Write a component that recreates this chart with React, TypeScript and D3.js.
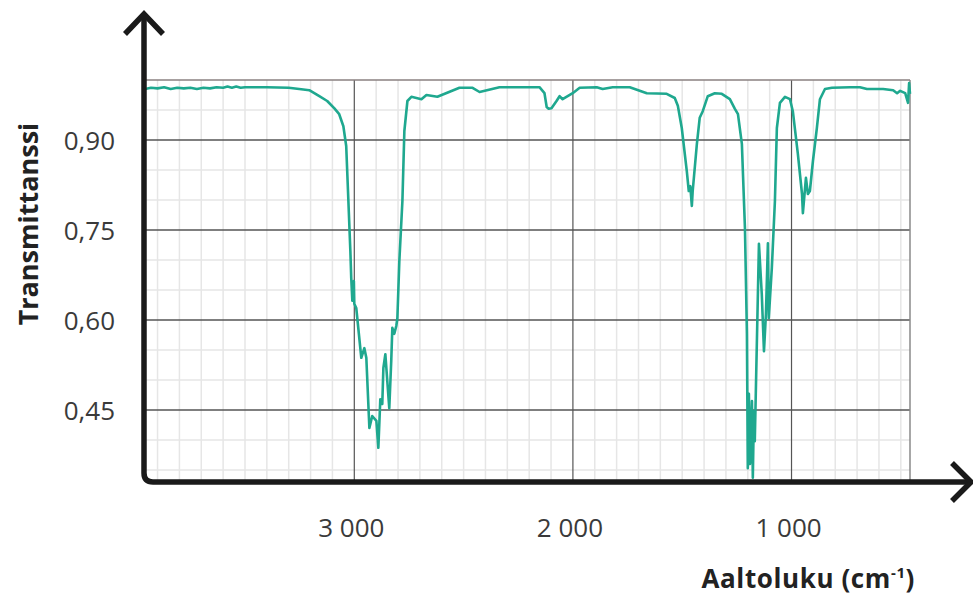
import React from "react";
import * as d3 from "d3";

const wavenumber: number[] = [
  3957, 3930, 3900, 3870, 3840, 3810, 3780, 3750, 3720, 3690, 3660, 3630, 3600, 3580, 3560, 3540, 3520, 3500, 3450, 3400, 3300,
  3252, 3206, 3160, 3124, 3092, 3069, 3050, 3037, 3027, 3018, 3014, 3009, 3002, 3000, 2991,
  2968, 2954, 2945, 2931, 2918, 2899, 2890, 2881, 2872, 2867, 2858, 2840, 2831, 2826, 2817, 2808, 2803,
  2794, 2780, 2771, 2757, 2739, 2693, 2670, 2620, 2519, 2459, 2427, 2336, 2153, 2130, 2120, 2111, 2098,
  2075, 2061, 2047, 2001, 1969, 1891, 1864, 1818, 1740, 1662, 1571, 1534, 1520, 1502, 1479, 1470, 1463,
  1456, 1452, 1433, 1420, 1406, 1383, 1351, 1319, 1282, 1259, 1245, 1227, 1213, 1204, 1200, 1195, 1190,
  1181, 1177, 1172, 1168, 1149, 1136, 1126, 1117, 1108, 1104, 1090, 1076, 1067, 1053, 1030, 1007, 994,
  971, 952, 948, 934, 925, 916, 902, 884, 870, 847, 815, 732, 687, 655, 581, 535, 517, 503, 480, 467, 462, 458,
];

const transmittance: number[] = [
  0.985, 0.987, 0.986, 0.988, 0.985, 0.987, 0.986, 0.987, 0.985, 0.987, 0.986, 0.988, 0.987, 0.989, 0.987, 0.989, 0.987, 0.988, 0.988, 0.988, 0.987,
  0.985, 0.983, 0.973, 0.965, 0.953, 0.943, 0.923, 0.89, 0.798, 0.715, 0.67, 0.632, 0.665, 0.627, 0.62,
  0.537, 0.553, 0.537, 0.42, 0.44, 0.432, 0.387, 0.468, 0.46, 0.52, 0.543, 0.453, 0.532, 0.587, 0.577, 0.59, 0.603,
  0.698, 0.798, 0.915, 0.965, 0.972, 0.968, 0.975, 0.972, 0.987, 0.987, 0.98, 0.988, 0.988, 0.978, 0.955, 0.952, 0.953,
  0.965, 0.973, 0.968, 0.978, 0.987, 0.988, 0.985, 0.988, 0.988, 0.978, 0.977, 0.97, 0.957, 0.92, 0.848, 0.815, 0.823,
  0.79, 0.815, 0.893, 0.937, 0.948, 0.973, 0.978, 0.977, 0.968, 0.952, 0.943, 0.893, 0.753, 0.577, 0.353, 0.477, 0.36,
  0.465, 0.337, 0.448, 0.398, 0.727, 0.643, 0.548, 0.61, 0.728, 0.603, 0.687, 0.798, 0.92, 0.962, 0.972, 0.968, 0.948,
  0.877, 0.81, 0.778, 0.837, 0.81, 0.815, 0.865, 0.92, 0.968, 0.985, 0.987, 0.988, 0.988, 0.985, 0.985, 0.983, 0.978, 0.982, 0.978, 0.962, 0.995, 0.977,
];

const yTicks: number[] = [0.45, 0.6, 0.75, 0.9];
const yTickLabels: string[] = ["0,45", "0,60", "0,75", "0,90"];
const xTicks: number[] = [3000, 2000, 1000];
const xTickLabels: string[] = ["3 000", "2 000", "1 000"];

const W = 973;
const H = 597;
const left = 144;
const right = 910;
const top = 80;
const bottom = 482;

export default function App() {
  const x = d3.scaleLinear().domain([3962, 458]).range([left, right]);
  const y = d3.scaleLinear().domain([0.33, 1.0]).range([bottom, top]);

  const data = wavenumber.map((w, i) => [w, transmittance[i]] as [number, number]);
  const line = d3
    .line<[number, number]>()
    .x((d) => x(d[0]))
    .y((d) => y(d[1]));

  const vMinor = d3.range(3900, 458, -100).filter((v) => v % 1000 !== 0);
  const hMinor = d3.range(0.35, 0.999, 0.05).filter((v) => !yTicks.some((t) => Math.abs(t - v) < 1e-6));

  const font = "'Open Sans', 'Noto Sans', sans-serif";
  const axisColor = "#1a1a1a";
  const r = 9;

  return (
    <svg
      width={W}
      height={H}
      viewBox={`0 0 ${W} ${H}`}
      style={{ position: "absolute", left: 0, top: 0, background: "#fff" }}
    >
      {/* minor grid */}
      {vMinor.map((v) => (
        <line key={"vm" + v} x1={x(v)} x2={x(v)} y1={top} y2={bottom} stroke="#e6e6e6" strokeWidth={1.5} />
      ))}
      {hMinor.map((v) => (
        <line key={"hm" + v} x1={left} x2={right} y1={y(v)} y2={y(v)} stroke="#e6e6e6" strokeWidth={1.5} />
      ))}
      {/* major grid */}
      {xTicks.map((v) => (
        <line key={"vM" + v} x1={x(v)} x2={x(v)} y1={top} y2={bottom} stroke="#555" strokeWidth={1.2} />
      ))}
      {yTicks.map((v) => (
        <line key={"hM" + v} x1={left} x2={right} y1={y(v)} y2={y(v)} stroke="#555" strokeWidth={1.4} />
      ))}
      {/* border top/right */}
      <line x1={left} x2={right} y1={top} y2={top} stroke="#8a8080" strokeWidth={1.5} />
      <line x1={right} x2={right} y1={top} y2={bottom} stroke="#8a8a8a" strokeWidth={1.5} />

      {/* spectrum */}
      <path d={line(data) || ""} fill="none" stroke="#1fa88f" strokeWidth={2.6} strokeLinejoin="round" />

      {/* axes */}
      <path
        d={`M${left},${top - 66} L${left},${bottom - r} Q${left},${bottom} ${left + r},${bottom} L${W - 2},${bottom}`}
        fill="none"
        stroke={axisColor}
        strokeWidth={5.5}
      />
      <polyline
        points={`${left - 19},${top - 46} ${left},${top - 66} ${left + 19},${top - 46}`}
        fill="none"
        stroke={axisColor}
        strokeWidth={5.5}
      />
      <polyline
        points={`${W - 21},${bottom - 19} ${W - 2},${bottom} ${W - 21},${bottom + 19}`}
        fill="none"
        stroke={axisColor}
        strokeWidth={5.5}
      />

      {/* y tick labels */}
      {yTicks.map((v, i) => (
        <text
          key={"yl" + v}
          x={115}
          y={y(v)}
          textAnchor="end"
          dominantBaseline="central"
          fontFamily={font}
          fontSize={26}
          fill="#3a3a3a"
        >
          {yTickLabels[i]}
        </text>
      ))}
      {/* x tick labels */}
      {xTicks.map((v, i) => (
        <text
          key={"xl" + v}
          x={x(v) - 3}
          y={527}
          textAnchor="middle"
          dominantBaseline="central"
          fontFamily={font}
          fontSize={26}
          fill="#3a3a3a"
        >
          {xTickLabels[i]}
        </text>
      ))}

      {/* titles */}
      <text
        transform={`translate(38,224) rotate(-90)`}
        textAnchor="middle"
        fontFamily={font}
        fontWeight="bold"
        fontSize={27}
        fill="#222"
      >
        Transmittanssi
      </text>
      <text
        x={915}
        y={588}
        textAnchor="end"
        fontFamily={font}
        fontWeight="bold"
        fontSize={26}
        letterSpacing={0.6}
        fill="#222"
      >
        Aaltoluku (cm
        <tspan dy={-10} fontSize={15}>
          -1
        </tspan>
        <tspan dy={10}>)</tspan>
      </text>
    </svg>
  );
}
